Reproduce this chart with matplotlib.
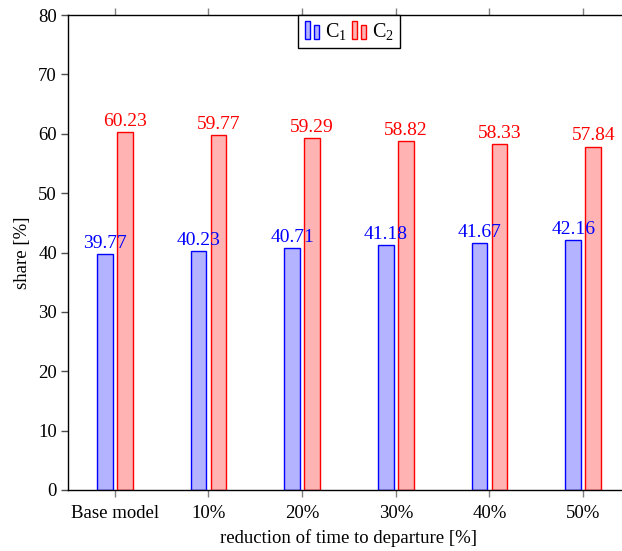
import matplotlib.pyplot as plt
import numpy as np
from matplotlib.patches import Rectangle
from matplotlib.legend_handler import HandlerBase

plt.rcParams['font.family'] = ['Liberation Serif', 'DejaVu Serif']
plt.rcParams['mathtext.fontset'] = 'custom'
plt.rcParams['mathtext.rm'] = 'Liberation Serif'
plt.rcParams['mathtext.it'] = 'Liberation Serif:italic'

categories = ['Base model', '10%', '20%', '30%', '40%', '50%']
c1 = [39.77, 40.23, 40.71, 41.18, 41.67, 42.16]
c2 = [60.23, 59.77, 59.29, 58.82, 58.33, 57.84]
yticks = [0, 10, 20, 30, 40, 50, 60, 70, 80]

blue_fill = (0.7, 0.7, 1.0)
red_fill = (1.0, 0.7, 0.7)


class TwoBars(HandlerBase):
    # pgfplots style legend picture: two small bars
    def create_artists(self, legend, orig, xd, yd, w, h, fontsize, trans):
        p = orig.patches[0]
        fc = p.get_facecolor()
        ec = p.get_edgecolor()
        bw = w * 0.28
        r1 = Rectangle((xd + w * 0.05, yd - h * 0.15), bw, h * 1.3, fc=fc, ec=ec,
                       lw=1, transform=trans)
        r2 = Rectangle((xd + w * 0.55, yd - h * 0.15), bw, h * 1.0, fc=fc, ec=ec,
                       lw=1, transform=trans)
        return [r1, r2]


fig = plt.figure(figsize=(6.22, 5.51), dpi=100)
W, H = 622, 551
ax = fig.add_axes([68 / W, 1 - 490 / H, (630 - 68) / W, (490 - 15) / H])

x = np.arange(len(categories))
bw = 0.17
off = 0.107
b1 = ax.bar(x - off, c1, bw, color=blue_fill, edgecolor='blue', linewidth=1, label='C$_1$')
b2 = ax.bar(x + off, c2, bw, color=red_fill, edgecolor='red', linewidth=1, label='C$_2$')

fs = 13.5
lfs = 14
for xi, v in zip(x, c1):
    ax.annotate(f'{v:.2f}', (xi - off, v), xytext=(0, 1.5), textcoords='offset points',
                ha='center', va='bottom', color='blue', fontsize=lfs)
for xi, v in zip(x, c2):
    ax.annotate(f'{v:.2f}', (xi + off, v), xytext=(0, 1.5), textcoords='offset points',
                ha='center', va='bottom', color='red', fontsize=lfs)

ax.set_xlim(-0.5, 5.5)
ax.set_ylim(0, 80)
ax.set_xticks(x)
ax.set_xticklabels(categories, fontsize=fs)
ax.set_yticks(yticks)
ax.set_yticklabels([str(t) for t in yticks], fontsize=fs)
ax.tick_params(axis='x', direction='out', length=5, color='0.5', width=1,
               top=True, pad=6)
ax.tick_params(axis='y', direction='out', length=5, color='0.3', width=1, pad=3)
for s in ax.spines.values():
    s.set_linewidth(1)
ax.spines['right'].set_visible(False)

ax.set_xlabel('reduction of time to departure [%]', fontsize=fs, labelpad=5)
ax.set_ylabel('share [%]', fontsize=fs, labelpad=5)

leg = ax.legend(handler_map={b1: TwoBars(), b2: TwoBars()},
                handles=[b1, b2], loc='upper center', ncol=2, fontsize=14.5,
                borderaxespad=0, fancybox=False, framealpha=1, edgecolor='black',
                handlelength=0.85, handletextpad=0.15, columnspacing=0.25,
                borderpad=0.3)
leg.get_frame().set_linewidth(1)

fig.savefig('out.png', dpi=100)
